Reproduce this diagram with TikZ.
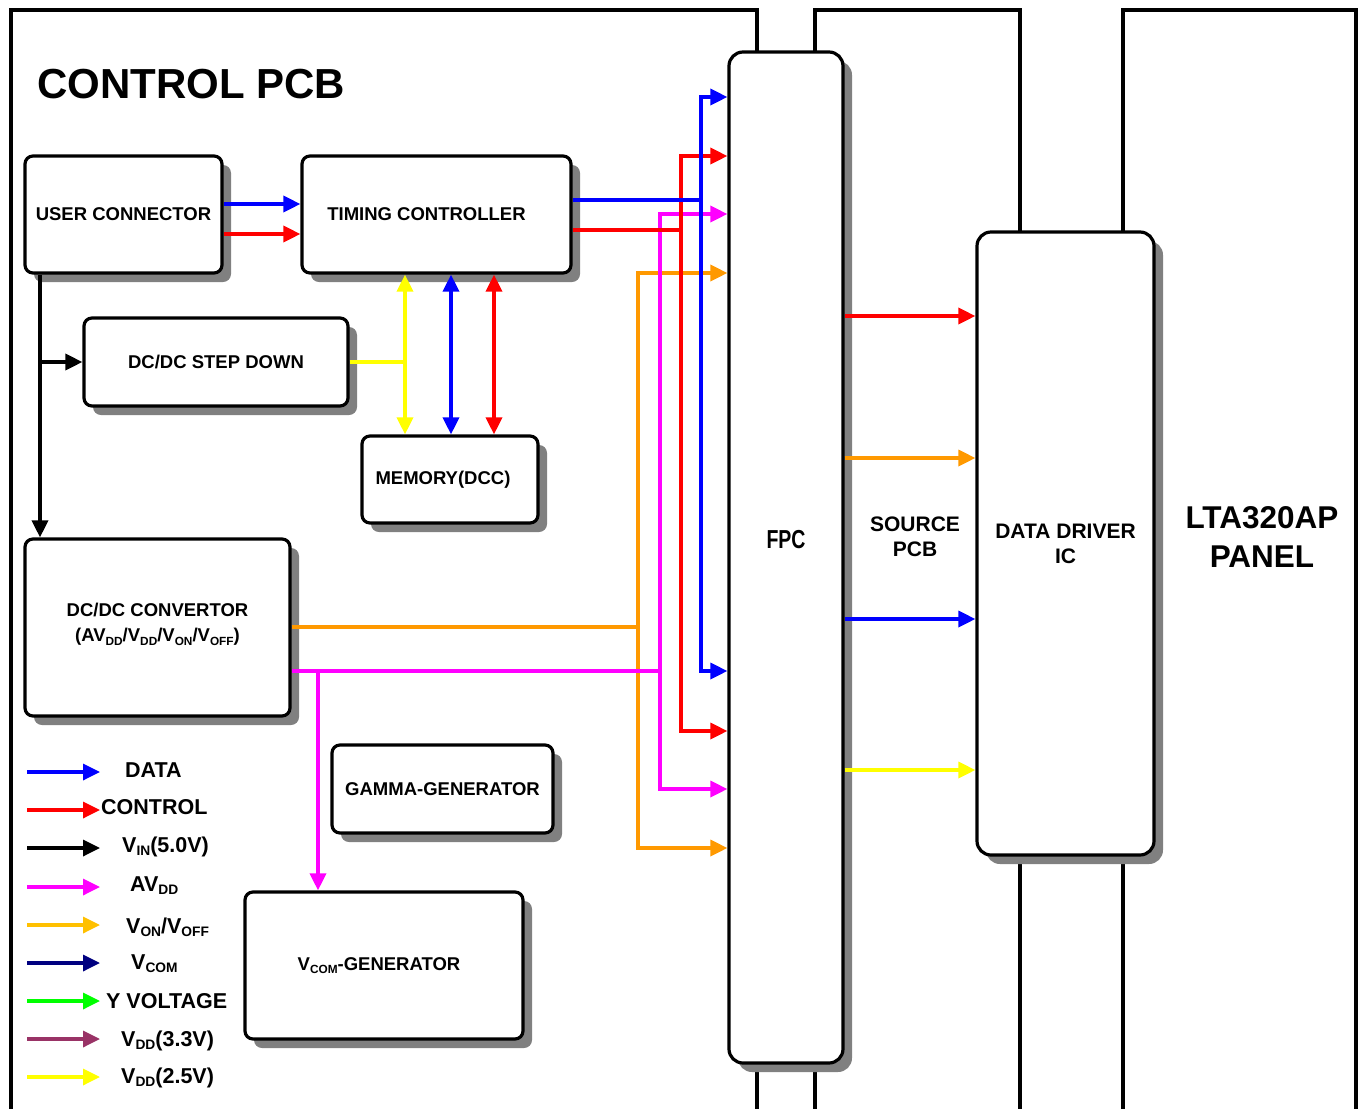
\documentclass[tikz,border=0pt]{standalone}
\usepackage{fontspec}
\setmainfont{Liberation Sans}
\usepackage{graphicx}
\usetikzlibrary{arrows.meta}
\usetikzlibrary{shadows}
\usetikzlibrary{calc}
\definecolor{cdata}{RGB}{0,0,255}
\definecolor{cctrl}{RGB}{255,0,0}
\definecolor{cavdd}{RGB}{255,0,255}
\definecolor{cvon}{RGB}{255,153,0}
\definecolor{cvonkey}{RGB}{255,192,0}
\definecolor{cvcom}{RGB}{0,0,128}
\definecolor{cyv}{RGB}{0,255,0}
\definecolor{cvdd33}{RGB}{153,51,102}
\definecolor{cvdd25}{RGB}{255,255,0}
\newcommand{\lsub}[1]{\raisebox{-0.35ex}{\scalebox{0.64}{#1}}}
\tikzset{
  blok/.style={draw, line width=3.2pt, rounded corners=8pt, fill=white, inner sep=0pt, align=center,
    font=\bfseries\fontsize{18.5}{22}\selectfont,
    drop shadow={shadow xshift=9pt, shadow yshift=-9pt, fill=gray, opacity=1}},
  tallblok/.style={blok, rounded corners=14pt},
  frameline/.style={line width=4pt},
  sig/.style={line width=3.4pt},
  legtxt/.style={anchor=base west, inner sep=0pt, font=\bfseries\fontsize{21.5}{25}\selectfont},
}
\begin{document}
\begin{tikzpicture}[x=1pt, y=-1pt, >={Triangle[length=17pt,width=16pt]}]
\useasboundingbox (0,0) rectangle (1361,1109);
\fill[white] (0,0) rectangle (1361,1109);
% boards
\draw[frameline] (11,1109) -- (11,10) -- (757,10) -- (757,52);
\draw[frameline] (757,1072) -- (757,1109);
\draw[frameline] (815,52) -- (815,10) -- (1020,10) -- (1020,232);
\draw[frameline] (815,1072) -- (815,1109);
\draw[frameline] (1020,864) -- (1020,1109);
\draw[frameline] (1123,232) -- (1123,10) -- (1356,10) -- (1356,1109);
\draw[frameline] (1123,864) -- (1123,1109);
\node[tallblok, minimum width=114pt, minimum height=1011pt] (fpc) at (786,557.5) {};
\node[tallblok, minimum width=177pt, minimum height=623pt, font=\bfseries\fontsize{21}{25}\selectfont] (ddi) at (1065.5,543.5) {DATA DRIVER\\IC};
\node[anchor=base west, inner sep=0pt, font=\bfseries\fontsize{42}{48}\selectfont] (ttl) at (37,98) {CONTROL PCB};
\node[font=\bfseries\fontsize{26}{30}\selectfont] (fpctxt) at (786,540) {\scalebox{0.75}[1]{FPC}};
\node[align=center, font=\bfseries\fontsize{21}{25}\selectfont] (spcb) at (915,537) {SOURCE\\PCB};
\node[align=center, font=\bfseries\fontsize{31.5}{39}\selectfont] (pnl) at (1262,537) {LTA320AP\\PANEL};
% control pcb blocks
\node[blok, minimum width=197pt, minimum height=117pt] (uc) at (123.5,214.5) {USER CONNECTOR};
\node[blok, minimum width=269pt, minimum height=117pt] (tc) at (436.5,214.5) {\hspace*{-20pt}TIMING CONTROLLER};
\node[blok, minimum width=264pt, minimum height=88pt] (sd) at (216,362) {DC/DC STEP DOWN};
\node[blok, minimum width=176pt, minimum height=87pt] (mem) at (450,479.5) {\hspace*{-14pt}MEMORY(DCC)};
\node[blok, minimum width=265pt, minimum height=177pt, font=\bfseries\fontsize{18.5}{25}\selectfont] (cv) at (157.5,627.5) {DC/DC CONVERTOR\\(AV\lsub{DD}/V\lsub{DD}/V\lsub{ON}/V\lsub{OFF})\\[-15pt]};
\node[blok, minimum width=221pt, minimum height=88pt] (gam) at (442.5,789) {GAMMA-GENERATOR};
\node[blok, minimum width=278pt, minimum height=147pt] (vcg) at (384,965.5) {\hspace*{-10pt}V\lsub{COM}-GENERATOR};
% user connector to timing controller
\draw[sig,cdata,->] (uc.east |- 0,204) -- (tc.west |- 0,204);
\draw[sig,cctrl,->] (uc.east |- 0,234) -- (tc.west |- 0,234);
% 5V input
\draw[sig,black,->] (40,0 |- uc.south) -- (40,0 |- cv.north);
\draw[sig,black,->] (40,0 |- sd.west) -- (sd.west);
% memory bus
\draw[sig,cvdd25] (sd.east) -- (405,0 |- sd.east);
\draw[sig,cvdd25,<->] (405,0 |- tc.south) -- (405,0 |- mem.north);
\draw[sig,cdata,<->] (451,0 |- tc.south) -- (451,0 |- mem.north);
\draw[sig,cctrl,<->] (494,0 |- tc.south) -- (494,0 |- mem.north);
% lines to the FPC
\coordinate (avddtap) at (318,671);
\draw[sig,cvon] (cv.east |- 0,627) -- (638,627);
\draw[sig,cvon,<->] (fpc.west |- 0,273) -- (638,273) -- (638,848) -- (fpc.west |- 0,848);
\draw[sig,cavdd] (cv.east |- avddtap) -- (660,671);
\draw[sig,cavdd,->] (avddtap) -- (avddtap |- vcg.north);
\draw[sig,cavdd,<->] (fpc.west |- 0,214) -- (660,214) -- (660,789) -- (fpc.west |- 0,789);
\draw[sig,cctrl] (tc.east |- 0,230) -- (681,230);
\draw[sig,cctrl,<->] (fpc.west |- 0,156) -- (681,156) -- (681,731) -- (fpc.west |- 0,731);
\draw[sig,cdata] (tc.east |- 0,200) -- (701,200);
\draw[sig,cdata,<->] (fpc.west |- 0,97) -- (701,97) -- (701,671) -- (fpc.west |- 0,671);
% source pcb
\foreach \yy/\col in {316/cctrl, 458/cvon, 619/cdata, 770/cvdd25}
  \draw[sig,\col,->] (fpc.east |- 0,\yy) -- (ddi.west |- 0,\yy);
% legend
\foreach \yy/\col/\txt/\tx/\ty [count=\i] in {
  772/cdata/DATA/125/777,
  810/cctrl/CONTROL/101/814,
  848/black/{V\lsub{IN}(5.0V)}/122/852,
  887/cavdd/{AV\lsub{DD}}/130/891,
  925/cvonkey/{V\lsub{ON}/V\lsub{OFF}}/126/933,
  963/cvcom/{V\lsub{COM}}/131/969,
  1001/cyv/{Y VOLTAGE}/106/1008,
  1039/cvdd33/{V\lsub{DD}(3.3V)}/121/1046,
  1077/cvdd25/{V\lsub{DD}(2.5V)}/121/1083} {
  \coordinate (lgs\i) at (27,\yy);
  \coordinate (lge\i) at (100,\yy);
  \draw[sig,\col,->] (lgs\i) -- (lge\i);
  \node[legtxt] (lgt\i) at (\tx,\ty) {\txt};
}
\end{tikzpicture}
\end{document}
